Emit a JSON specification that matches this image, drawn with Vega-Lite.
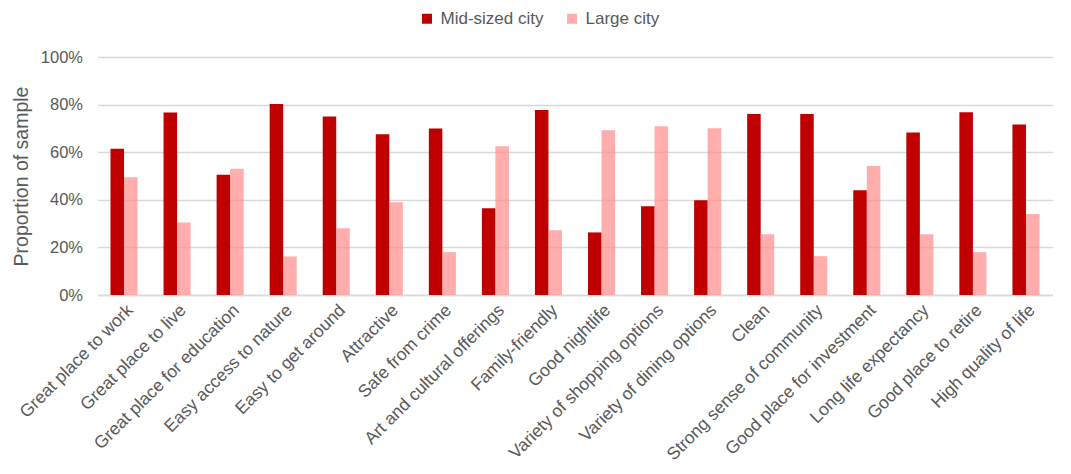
{
  "$schema": "https://vega.github.io/schema/vega-lite/v6.json",
  "width": 955,
  "height": 238,
  "autosize": {"type": "none"},
  "padding": {"left": 97.5, "top": 57, "right": 18.5, "bottom": 179},
  "background": "#ffffff",
  "config": {
    "view": {"stroke": null},
    "font": "Liberation Sans",
    "axis": {"labelFont": "Liberation Sans", "titleFont": "Liberation Sans", "labelColor": "#595959", "titleColor": "#595959"},
    "legend": {"labelFont": "Liberation Sans"}
  },
  "data": {
    "values": [
      {"attribute": "Great place to work", "city": "Mid-sized city", "share": 0.615},
      {"attribute": "Great place to work", "city": "Large city", "share": 0.495},
      {"attribute": "Great place to live", "city": "Mid-sized city", "share": 0.767},
      {"attribute": "Great place to live", "city": "Large city", "share": 0.305},
      {"attribute": "Great place for education", "city": "Mid-sized city", "share": 0.505},
      {"attribute": "Great place for education", "city": "Large city", "share": 0.53},
      {"attribute": "Easy access to nature", "city": "Mid-sized city", "share": 0.802},
      {"attribute": "Easy access to nature", "city": "Large city", "share": 0.162},
      {"attribute": "Easy to get around", "city": "Mid-sized city", "share": 0.75},
      {"attribute": "Easy to get around", "city": "Large city", "share": 0.28},
      {"attribute": "Attractive", "city": "Mid-sized city", "share": 0.675},
      {"attribute": "Attractive", "city": "Large city", "share": 0.39},
      {"attribute": "Safe from crime", "city": "Mid-sized city", "share": 0.7},
      {"attribute": "Safe from crime", "city": "Large city", "share": 0.18},
      {"attribute": "Art and cultural offerings", "city": "Mid-sized city", "share": 0.365},
      {"attribute": "Art and cultural offerings", "city": "Large city", "share": 0.625},
      {"attribute": "Family-friendly", "city": "Mid-sized city", "share": 0.777},
      {"attribute": "Family-friendly", "city": "Large city", "share": 0.272},
      {"attribute": "Good nightlife", "city": "Mid-sized city", "share": 0.263},
      {"attribute": "Good nightlife", "city": "Large city", "share": 0.692},
      {"attribute": "Variety of shopping options", "city": "Mid-sized city", "share": 0.373},
      {"attribute": "Variety of shopping options", "city": "Large city", "share": 0.709},
      {"attribute": "Variety of dining options", "city": "Mid-sized city", "share": 0.398},
      {"attribute": "Variety of dining options", "city": "Large city", "share": 0.701},
      {"attribute": "Clean", "city": "Mid-sized city", "share": 0.76},
      {"attribute": "Clean", "city": "Large city", "share": 0.255},
      {"attribute": "Strong sense of community", "city": "Mid-sized city", "share": 0.76},
      {"attribute": "Strong sense of community", "city": "Large city", "share": 0.163},
      {"attribute": "Good place for investment", "city": "Mid-sized city", "share": 0.44},
      {"attribute": "Good place for investment", "city": "Large city", "share": 0.542},
      {"attribute": "Long life expectancy", "city": "Mid-sized city", "share": 0.683},
      {"attribute": "Long life expectancy", "city": "Large city", "share": 0.255},
      {"attribute": "Good place to retire", "city": "Mid-sized city", "share": 0.768},
      {"attribute": "Good place to retire", "city": "Large city", "share": 0.18},
      {"attribute": "High quality of life", "city": "Mid-sized city", "share": 0.716},
      {"attribute": "High quality of life", "city": "Large city", "share": 0.34}
    ]
  },
  "mark": {"type": "bar"},
  "encoding": {
    "x": {
      "field": "attribute",
      "type": "nominal",
      "sort": null,
      "scale": {"paddingInner": 0.49, "paddingOuter": 0.245},
      "axis": {
        "title": null,
        "labelAngle": -45,
        "labelFontSize": 17.5,
        "labelPadding": 6,
        "ticks": false,
        "domainColor": "#d9d9d9",
        "domainWidth": 1.5,
        "labelLimit": 300
      }
    },
    "xOffset": {
      "field": "city",
      "type": "nominal",
      "sort": ["Mid-sized city", "Large city"],
      "scale": {"paddingInner": 0, "paddingOuter": 0}
    },
    "y": {
      "field": "share",
      "type": "quantitative",
      "scale": {"domain": [0, 1], "nice": false},
      "axis": {
        "title": "Proportion of sample",
        "titleFontSize": 19.5,
        "titleFontWeight": "normal",
        "titlePadding": 9,
        "format": ".0%",
        "values": [0, 0.2, 0.4, 0.6, 0.8, 1],
        "labelFontSize": 16.5,
        "labelPadding": 15,
        "ticks": false,
        "domain": false,
        "gridColor": "#d9d9d9",
        "gridWidth": 1.5
      }
    },
    "color": {
      "field": "city",
      "type": "nominal",
      "sort": ["Mid-sized city", "Large city"],
      "scale": {"domain": ["Mid-sized city", "Large city"], "range": ["#c00000", "#ff8a8a"]},
      "legend": {
        "title": null,
        "orient": "none",
        "direction": "horizontal",
        "legendX": 321,
        "legendY": -47,
        "symbolType": "square",
        "symbolSize": 100,
        "symbolStrokeWidth": 0,
        "symbolOpacity": 1,
        "labelFontSize": 17,
        "labelColor": "#595959",
        "columnPadding": 20,
        "labelOffset": 5
      }
    },
    "opacity": {
      "field": "city",
      "type": "nominal",
      "scale": {"domain": ["Mid-sized city", "Large city"], "range": [1, 0.7]},
      "legend": null
    }
  }
}
